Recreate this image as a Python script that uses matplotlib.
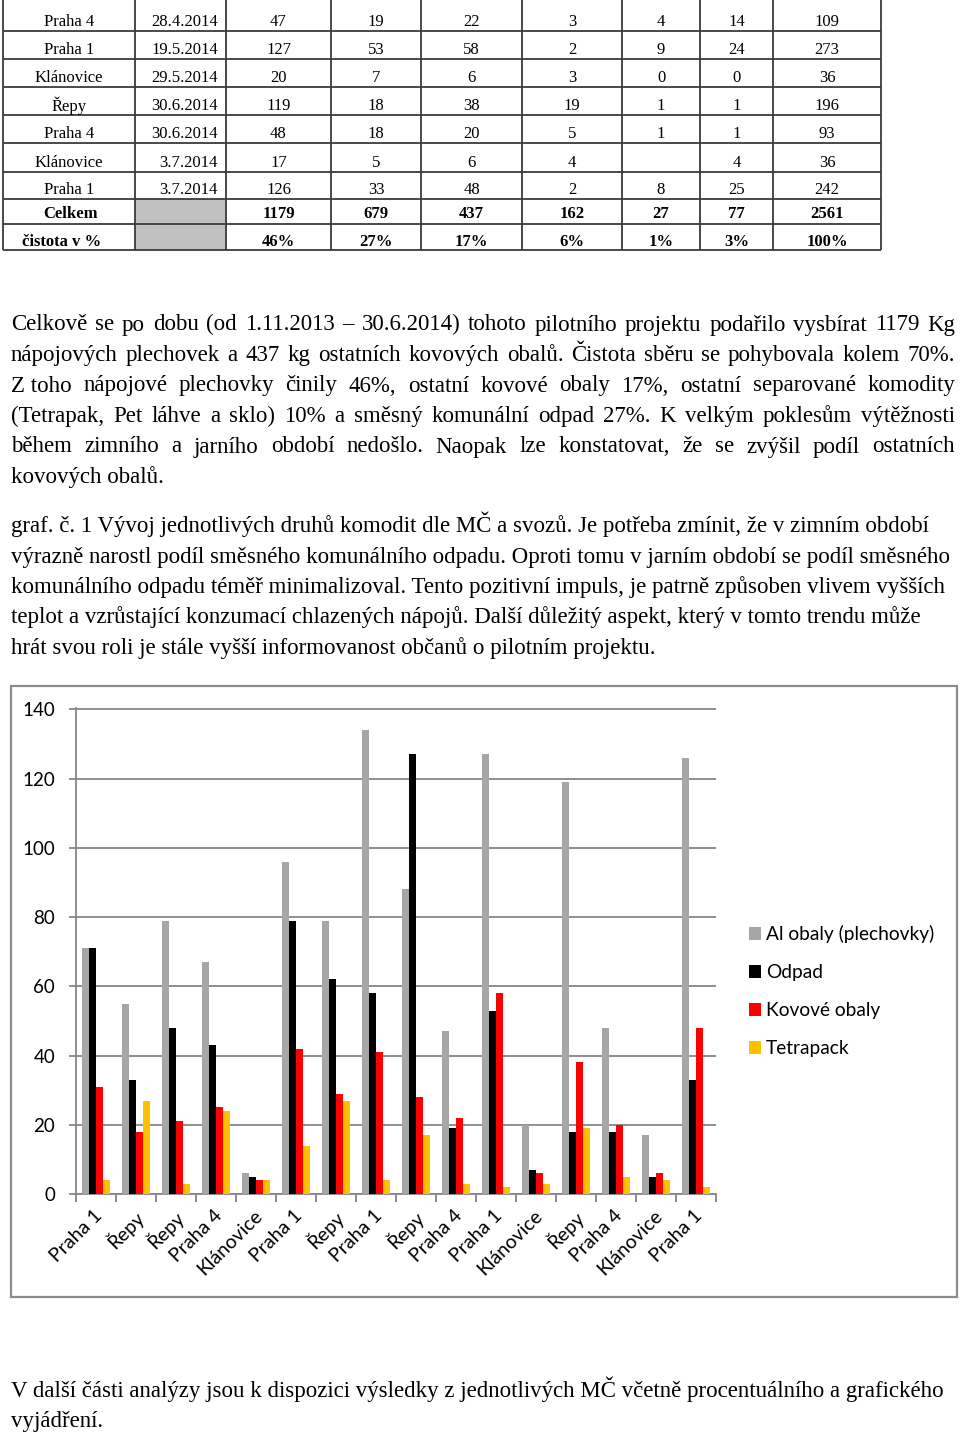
import matplotlib
matplotlib.use("Agg")
import matplotlib.pyplot as plt
import matplotlib.transforms as mtransforms
from matplotlib.patches import Rectangle
import numpy as np

# ---------------- table data ----------------
table_places = ["Praha 4", "Praha 1", "Klánovice", "Řepy", "Praha 4", "Klánovice", "Praha 1"]
table_dates = ["28.4.2014", "19.5.2014", "29.5.2014", "30.6.2014", "30.6.2014", "3.7.2014", "3.7.2014"]
col_al = ["47", "127", "20", "119", "48", "17", "126"]
col_odpad = ["19", "53", "7", "18", "18", "5", "33"]
col_kovove = ["22", "58", "6", "38", "20", "6", "48"]
col_tetra = ["3", "2", "3", "19", "5", "4", "2"]
col_pet = ["4", "9", "0", "1", "1", "", "8"]
col_sklo = ["14", "24", "0", "1", "1", "4", "25"]
col_total = ["109", "273", "36", "196", "93", "36", "242"]
celkem_label = "Celkem"
celkem_row = ["1179", "679", "437", "162", "27", "77", "2561"]
cistota_label = "čistota v %"
cistota_row = ["46%", "27%", "17%", "6%", "1%", "3%", "100%"]

# ---------------- chart data ----------------
categories = ["Praha 1", "Řepy", "Řepy", "Praha 4", "Klánovice", "Praha 1", "Řepy", "Praha 1",
              "Řepy", "Praha 4", "Praha 1", "Klánovice", "Řepy", "Praha 4", "Klánovice", "Praha 1"]
al_obaly = [71, 55, 79, 67, 6, 96, 79, 134, 88, 47, 127, 20, 119, 48, 17, 126]
odpad = [71, 33, 48, 43, 5, 79, 62, 58, 127, 19, 53, 7, 18, 18, 5, 33]
kovove = [31, 18, 21, 25, 4, 42, 29, 41, 28, 22, 58, 6, 38, 20, 6, 48]
tetrapack = [4, 27, 3, 24, 4, 14, 27, 4, 17, 3, 2, 3, 19, 5, 4, 2]
series_names = ["Al obaly (plechovky)", "Odpad", "Kovové obaly", "Tetrapack"]
y_ticks = [0, 20, 40, 60, 80, 100, 120, 140]

# ---------------- text ----------------
para1 = [
    "Celkově se po dobu (od 1.11.2013 – 30.6.2014) tohoto pilotního projektu podařilo vysbírat 1179 Kg",
    "nápojových plechovek a 437 kg ostatních kovových obalů. Čistota sběru se pohybovala kolem 70%.",
    "Z\u00a0toho nápojové plechovky činily 46%, ostatní kovové obaly 17%, ostatní separované komodity",
    "(Tetrapak, Pet láhve a sklo) 10% a směsný komunální odpad 27%. K velkým poklesům výtěžnosti",
    "během zimního a jarního období nedošlo. Naopak lze konstatovat, že se zvýšil podíl ostatních",
    "kovových obalů.",
]
para2 = [
    "graf. č. 1 Vývoj jednotlivých druhů komodit dle MČ a svozů. Je potřeba zmínit, že v zimním období",
    "výrazně narostl podíl směsného komunálního odpadu. Oproti tomu v jarním období se podíl směsného",
    "komunálního odpadu téměř minimalizoval. Tento pozitivní impuls, je patrně způsoben vlivem vyšších",
    "teplot a vzrůstající konzumací chlazených nápojů. Další důležitý aspekt, který v tomto trendu může",
    "hrát svou roli je stále vyšší informovanost občanů o pilotním projektu.",
]
para3 = [
    "V další části analýzy jsou k dispozici výsledky z jednotlivých MČ včetně procentuálního a grafického",
    "vyjádření.",
]

SERIF = "Liberation Serif"
SANS = "Lato"

W, H = 960, 1436
fig = plt.figure(figsize=(W / 100, H / 100), dpi=100)
bg = fig.add_axes([0, 0, 1, 1])
bg.set_xlim(0, W)
bg.set_ylim(H, 0)
bg.axis("off")

# ---------------- table ----------------
col_edges = [3, 135, 226, 331, 421, 522, 622, 700, 773, 881]
row_lines = [31, 59, 87, 115, 143, 172, 199, 224, 250]
line_col = "#3a3a3a"
for r in (7, 8):
    bg.add_patch(Rectangle((col_edges[1], row_lines[r - 1]), col_edges[2] - col_edges[1],
                           row_lines[r] - row_lines[r - 1], facecolor="#c0c0c0", edgecolor="none"))
for xe in col_edges:
    bg.plot([xe, xe], [0, row_lines[-1]], color=line_col, lw=1.3, solid_capstyle="butt")
for ye in row_lines:
    bg.plot([col_edges[0], col_edges[-1]], [ye, ye], color=line_col, lw=1.3, solid_capstyle="butt")

num_cols = [col_al, col_odpad, col_kovove, col_tetra, col_pet, col_sklo, col_total]
tfs = 12
for i in range(len(table_places)):
    yc = row_lines[i] - 9
    bg.text((col_edges[0] + col_edges[1]) / 2, yc, table_places[i], ha="center", va="center",
            family=SERIF, fontsize=tfs)
    bg.text(col_edges[2] - 8, yc, table_dates[i], ha="right", va="center", family=SERIF, fontsize=tfs)
    for j, col in enumerate(num_cols):
        bg.text((col_edges[j + 2] + col_edges[j + 3]) / 2, yc, col[i], ha="center", va="center",
                family=SERIF, fontsize=tfs)
for r, (lab, vals, lx, dy) in zip((7, 8), ((celkem_label, celkem_row, 70, 10),
                                           (cistota_label, cistota_row, 62, 8.5))):
    yc = row_lines[r] - dy
    bg.text(lx, yc, lab, ha="center", va="center", family=SERIF, fontsize=tfs, weight="bold")
    for j, v in enumerate(vals):
        bg.text((col_edges[j + 2] + col_edges[j + 3]) / 2, yc, v, ha="center", va="center",
                family=SERIF, fontsize=tfs, weight="bold")

# ---------------- paragraphs ----------------
pfs = 16.5
renderer = fig.canvas.get_renderer()


def draw_line(text, y, justify, x0=11, x1=955):
    if not justify:
        bg.text(x0, y, text, ha="left", va="baseline", family=SERIF, fontsize=pfs)
        return
    words = text.split(" ")
    objs = [bg.text(0, y, w, ha="left", va="baseline", family=SERIF, fontsize=pfs) for w in words]
    widths = [o.get_window_extent(renderer).width for o in objs]
    gap = (x1 - x0 - sum(widths)) / (len(words) - 1)
    xx = x0
    for o, w in zip(objs, widths):
        o.set_x(xx)
        xx += w + gap


base1 = [330.5, 361, 391.5, 422, 452.5, 483]
for k, (ln, yb) in enumerate(zip(para1, base1)):
    draw_line(ln, yb, justify=(k < len(para1) - 1))
base2 = [532, 562.5, 593, 623.5, 654]
for ln, yb in zip(para2, base2):
    draw_line(ln, yb, justify=False)
base3 = [1397, 1427]
for ln, yb in zip(para3, base3):
    draw_line(ln, yb, justify=False)

# ---------------- chart frame ----------------
bg.add_patch(Rectangle((11, 686), 946, 611, facecolor="none", edgecolor="#8c8c8c", lw=1.6))

# ---------------- chart ----------------
ax_l, ax_r, ax_t, ax_b = 76, 716, 708, 1194
ax = fig.add_axes([ax_l / W, 1 - ax_b / H, (ax_r - ax_l) / W, (ax_b - ax_t) / H])
ax.set_facecolor("none")
x = np.arange(len(categories))
bw = 0.18
colors = ["#a6a6a6", "#000000", "#ff0000", "#ffc000"]
handles = []
for k, (vals, c) in enumerate(zip([al_obaly, odpad, kovove, tetrapack], colors)):
    b = ax.bar(x + (k - 1.5) * bw, vals, width=bw, color=c, edgecolor="none", zorder=3)
    handles.append(b)

ax.set_xlim(-0.5, len(categories) - 0.5)
ax.set_ylim(0, 140.4)
ax.set_yticks(y_ticks)
ax.set_yticklabels([str(v) for v in y_ticks], family=SANS, fontsize=13.5)
ax.yaxis.grid(True, color="#868686", lw=1.3, zorder=0)
ax.set_axisbelow(True)
for s in ("top", "right"):
    ax.spines[s].set_visible(False)
for s in ("left", "bottom"):
    ax.spines[s].set_color("#868686")
    ax.spines[s].set_linewidth(1.3)
ax.tick_params(axis="y", length=5, width=1.3, color="#868686", pad=10)
ax.set_xticks(x)
ax.set_xticks(np.arange(-0.5, len(categories), 1.0), minor=True)
ax.tick_params(axis="x", which="major", length=0, pad=9)
ax.tick_params(axis="x", which="minor", length=6, width=1.3, color="#868686")
ax.set_xticklabels(categories, rotation=45, ha="right", va="top", rotation_mode="anchor",
                   family=SANS, fontsize=14)
offset = mtransforms.ScaledTranslation(-2.0 / 72, 0, fig.dpi_scale_trans)
for lab in ax.get_xticklabels():
    lab.set_transform(lab.get_transform() + offset)

leg = ax.legend(handles, series_names, loc="upper left",
                bbox_to_anchor=(749 / W, 1 - 925 / H), bbox_transform=fig.transFigure,
                frameon=False, prop={"family": SANS, "size": 13.75},
                handlelength=0.65, handleheight=0.65, handletextpad=0.25,
                labelspacing=1.1, borderpad=0, borderaxespad=0)

fig.savefig("out.png", dpi=100)
